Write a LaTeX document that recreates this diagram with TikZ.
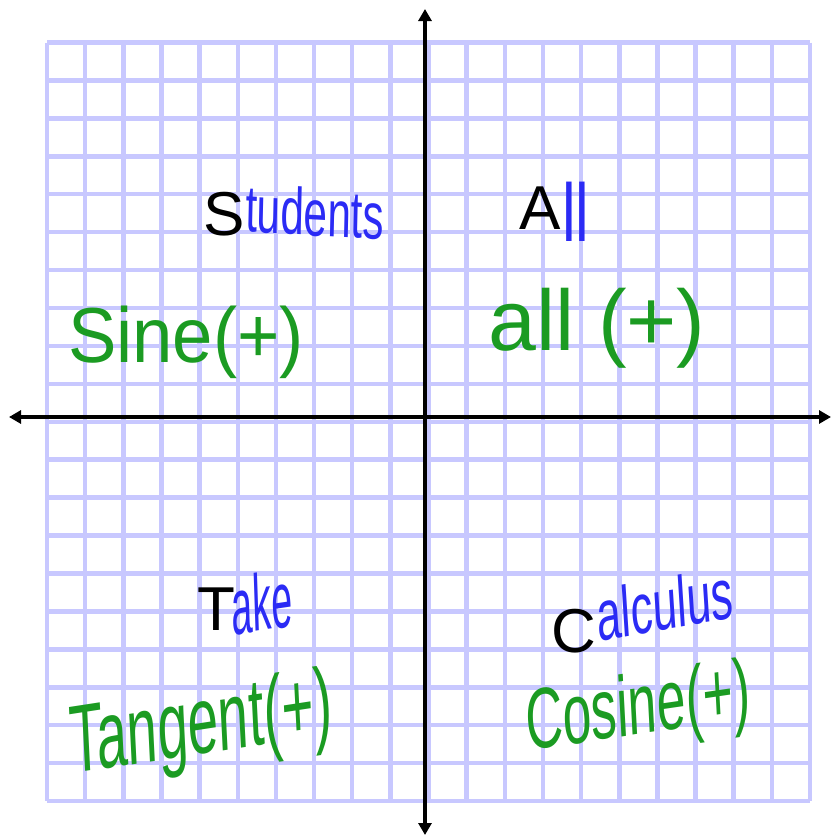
\documentclass[tikz,border=0pt]{standalone}
\usepackage{fontspec}
\setmainfont{Liberation Sans}
\usetikzlibrary{arrows.meta}
\definecolor{gridblue}{HTML}{C8C8FF}
\definecolor{inkgreen}{HTML}{1B9B22}
\definecolor{inkblue}{HTML}{2B2BF5}
\begin{document}
\begin{tikzpicture}[x=1pt,y=-1pt,
  gridline/.style={draw=gridblue,line width=4.5pt},
  axisline/.style={draw=black,line width=4.5pt,{Triangle[length=12pt,width=13pt]}-{Triangle[length=12pt,width=13pt]}},
  capletter/.style={inner sep=0pt,text=black,font=\fontsize{62}{66}\selectfont},
  greenink/.style={inner sep=0pt,text=inkgreen},
  blueink/.style={inner sep=0pt,text=inkblue}]
\useasboundingbox (0,0) rectangle (831,836);
\fill[white] (0,0) rectangle (831,836);
% grid
\foreach \i in {0,...,20}{
  \draw[gridline] ({47+38.15*\i},42.5) -- ({47+38.15*\i},801);
  \draw[gridline] (47,{42.5+37.93*\i}) -- (810,{42.5+37.93*\i});
}
% axes
\coordinate (ytop) at (425,9);
\coordinate (ybot) at (425,835);
\coordinate (xleft) at (9,417);
\coordinate (xright) at (831,417);
\draw[axisline] (ybot) -- (ytop);
\draw[axisline] (xleft) -- (xright);
% quadrant II
\node[capletter] (S) at (224,214) {S};
\node[blueink,font=\fontsize{66}{70}\selectfont,xscale=0.64,rotate=-2] (students) at (315,212) {tudents};
\node[greenink,font=\fontsize{78}{82}\selectfont,xscale=0.93] (sine) at (186,342) {Sine(+)};
% quadrant I
\node[capletter] (A) at (540,208) {A};
\node[blueink,font=\fontsize{82}{86}\selectfont,xscale=0.75] (all) at (576,212) {ll};
\node[greenink,font=\fontsize{86}{90}\selectfont] (allplus) at (597,328) {all (+)};
% quadrant III
\node[capletter] (T) at (216,609) {T};
\node[blueink,font=\fontsize{80}{84}\selectfont,xscale=0.47,rotate=4] (take) at (262,602) {ake};
\node[greenink,font=\fontsize{96}{100}\selectfont,xscale=0.57,rotate=5] (tangent) at (201,729) {Tangent(+)};
% quadrant IV
\node[capletter] (C) at (574,631) {C};
\node[blueink,font=\fontsize{72}{76}\selectfont,xscale=0.61,rotate=6] (calculus) at (665,604) {alculus};
\node[greenink,font=\fontsize{86}{90}\selectfont,xscale=0.6,rotate=5] (cosine) at (638,712) {Cosine(+)};
\end{tikzpicture}
\end{document}
